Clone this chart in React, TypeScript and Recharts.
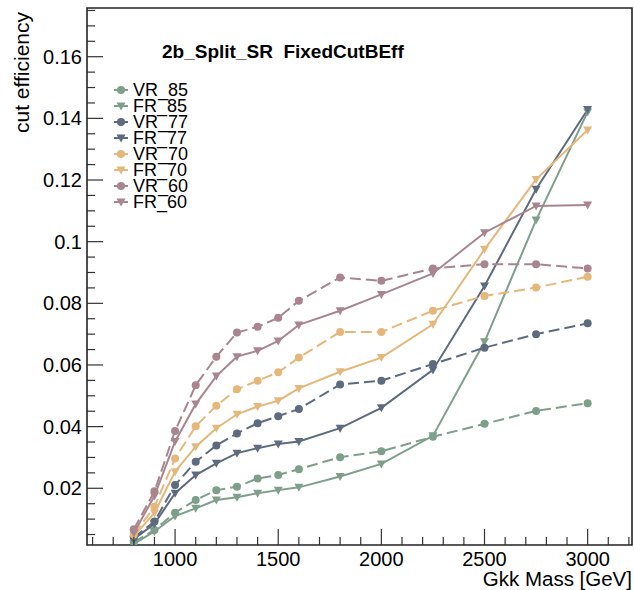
import { FC } from "react";
import { LineChart, Line, XAxis, YAxis, ReferenceArea, Customized } from "recharts";

const masses = [800, 900, 1000, 1100, 1200, 1300, 1400, 1500, 1600, 1800, 2000, 2250, 2500, 2750, 3000];

const vr85 = [0.0025, 0.0065, 0.0121, 0.0162, 0.0194, 0.0205, 0.0232, 0.0243, 0.0262, 0.0301, 0.032, 0.0367, 0.0409, 0.0451, 0.0476];
const fr85 = [0.002, 0.006, 0.011, 0.0135, 0.0162, 0.0171, 0.0184, 0.0194, 0.0203, 0.0238, 0.0279, 0.037, 0.0675, 0.107, 0.1421];
const vr77 = [0.004, 0.0092, 0.0211, 0.0286, 0.0339, 0.0378, 0.0411, 0.0434, 0.0457, 0.0537, 0.0549, 0.0603, 0.0656, 0.07, 0.0735];
const fr77 = [0.0035, 0.0085, 0.0184, 0.0243, 0.0281, 0.0314, 0.033, 0.0344, 0.0352, 0.0395, 0.0461, 0.0584, 0.0856, 0.117, 0.1429];
const vr70 = [0.005, 0.014, 0.0297, 0.0401, 0.0468, 0.0521, 0.0549, 0.0576, 0.0624, 0.0707, 0.0707, 0.0776, 0.0824, 0.0851, 0.0886];
const fr70 = [0.0045, 0.012, 0.0254, 0.0335, 0.0395, 0.044, 0.0465, 0.0484, 0.0524, 0.0578, 0.0624, 0.0732, 0.0975, 0.1202, 0.1362];
const vr60 = [0.0067, 0.019, 0.0386, 0.0534, 0.0627, 0.0705, 0.0724, 0.0753, 0.0808, 0.0884, 0.0873, 0.0913, 0.0927, 0.0927, 0.0913];
const fr60 = [0.0055, 0.0175, 0.0352, 0.0473, 0.0564, 0.0627, 0.0646, 0.0678, 0.073, 0.0776, 0.0829, 0.0897, 0.1029, 0.1116, 0.1119];

const xTicks = [600, 700, 800, 900, 1000, 1100, 1200, 1300, 1400, 1500, 1600, 1700, 1800, 1900, 2000, 2100, 2200, 2300, 2400, 2500, 2600, 2700, 2800, 2900, 3000, 3100, 3200];
const xLabels = [1000, 1500, 2000, 2500, 3000];
const yTicks = [0.005, 0.01, 0.015, 0.02, 0.025, 0.03, 0.035, 0.04, 0.045, 0.05, 0.055, 0.06, 0.065, 0.07, 0.075, 0.08, 0.085, 0.09, 0.095, 0.1, 0.105, 0.11, 0.115, 0.12, 0.125, 0.13, 0.135, 0.14, 0.145, 0.15, 0.155, 0.16, 0.165, 0.17, 0.175];
const yLabels = [0.02, 0.04, 0.06, 0.08, 0.1, 0.12, 0.14, 0.16];

const title = "2b_Split_SR  FixedCutBEff";
const xTitle = "Gkk Mass [GeV]";
const yTitle = "cut efficiency";

const GREEN = "#7e9f8b";
const SLATE = "#5e6a7e";
const YELLOW = "#e6b77a";
const PINK = "#a8858f";

const series = [
   { name: "VR_85", values: vr85, color: GREEN, dashed: true },
   { name: "FR_85", values: fr85, color: GREEN, dashed: false },
   { name: "VR_77", values: vr77, color: SLATE, dashed: true },
   { name: "FR_77", values: fr77, color: SLATE, dashed: false },
   { name: "VR_70", values: vr70, color: YELLOW, dashed: true },
   { name: "FR_70", values: fr70, color: YELLOW, dashed: false },
   { name: "VR_60", values: vr60, color: PINK, dashed: true },
   { name: "FR_60", values: fr60, color: PINK, dashed: false },
];

const data = masses.map((m, i) => {
   const row: Record<string, number> = { mass: m };
   series.forEach((s) => {
      row[s.name] = s.values[i];
   });
   return row;
});

const FONT = "'Liberation Sans', Arial, sans-serif";

const Marker = ({ x, y, color, circle }) =>
   circle ? (
      <circle cx={x} cy={y} r={4} fill={color} stroke="none" />
   ) : (
      <path d={`M${x - 4.5},${y - 3.5}L${x + 4.5},${y - 3.5}L${x},${y + 4.5}Z`} fill={color} stroke="none" />
   );

const makeDot = (color: string, circle: boolean) => (props) => {
   const { cx, cy, index } = props;
   if (cx == null || cy == null) return <g key={index} />;
   return (
      <g key={index}>
         <Marker x={cx} y={cy} color={color} circle={circle} />
      </g>
   );
};

const XTick = (props) => {
   const { x, y, payload } = props;
   const major = xLabels.includes(payload.value);
   const ay = y - 5;
   return (
      <g>
         <line x1={x} x2={x} y1={ay} y2={ay - (major ? 16 : 8)} stroke="#333" strokeWidth={1.2} />
         {major && (
            <text x={x} y={ay + 21} textAnchor="middle" fontSize={20} fontFamily={FONT} fill="#000">
               {payload.value}
            </text>
         )}
      </g>
   );
};

const YTick = (props) => {
   const { x, y, payload } = props;
   const major = yLabels.includes(payload.value);
   const ax = x + 5;
   return (
      <g>
         <line x1={ax} x2={ax + (major ? 16 : 8)} y1={y} y2={y} stroke="#333" strokeWidth={1.2} />
         {major && (
            <text x={x} y={y + 7} textAnchor="end" fontSize={20} fontFamily={FONT} fill="#000">
               {String(payload.value)}
            </text>
         )}
      </g>
   );
};

const Annotations = () => (
   <g fontFamily={FONT} fill="#000">
      <text x={162} y={58} fontSize={19} fontWeight="bold" style={{ whiteSpace: "pre" }}>
         {title}
      </text>
      <text x={632} y={586} fontSize={20.5} textAnchor="end">
         {xTitle}
      </text>
      <text transform="rotate(-90)" x={-12} y={29} fontSize={21} textAnchor="end">
         {yTitle}
      </text>
      {series.map((s, i) => {
         const cy = 90 + i * 16;
         return (
            <g key={s.name}>
               <line x1={114} x2={128} y1={cy} y2={cy} stroke={s.color} strokeWidth={2} />
               <Marker x={121} y={cy} color={s.color} circle={s.dashed} />
               <text x={133} y={cy + 6} fontSize={18}>
                  {s.name}
               </text>
            </g>
         );
      })}
   </g>
);

const App: FC = () => {
   return (
      <div style={{ position: "absolute", left: 0, top: 0, background: "#fff" }}>
         <LineChart width={634} height={590} data={data} margin={{ top: 8, right: 2, bottom: 0, left: 0 }}>
            <XAxis
               dataKey="mass"
               type="number"
               domain={[573, 3215]}
               allowDataOverflow
               ticks={xTicks}
               interval={0}
               height={45}
               axisLine={false}
               tickLine={false}
               tickSize={0}
               tickMargin={5}
               tick={XTick}
            />
            <YAxis
               type="number"
               domain={[0.0016, 0.1758]}
               allowDataOverflow
               ticks={yTicks}
               interval={0}
               width={87}
               axisLine={false}
               tickLine={false}
               tickSize={0}
               tickMargin={5}
               tick={YTick}
            />
            <ReferenceArea x1={573} x2={3215} y1={0.0016} y2={0.1758} fill="none" stroke="#222" strokeWidth={1.6} />
            {series.map((s) => (
               <Line
                  key={s.name}
                  dataKey={s.name}
                  stroke={s.color}
                  strokeWidth={2}
                  strokeDasharray={s.dashed ? "11 5" : undefined}
                  dot={makeDot(s.color, s.dashed)}
                  activeDot={false}
                  isAnimationActive={false}
               />
            ))}
            <Customized component={Annotations} />
         </LineChart>
      </div>
   );
};

export default App;
